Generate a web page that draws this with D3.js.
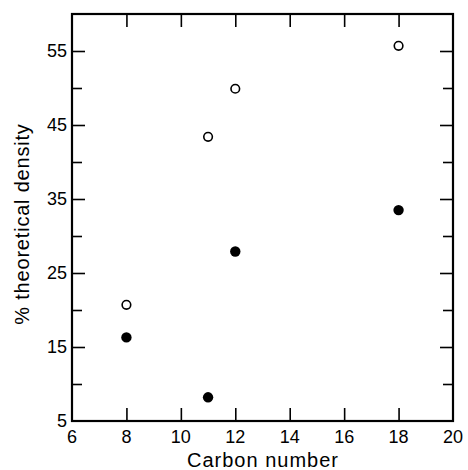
<!DOCTYPE html>
<html><head><meta charset="utf-8">
<script src="https://cdn.jsdelivr.net/npm/d3@7/dist/d3.min.js"></script>
<style>body{margin:0;background:#fff}svg{display:block}text{font-family:"Liberation Sans",Arial,sans-serif;fill:#000}</style>
</head><body>
<svg id="c" width="468" height="470"></svg>
<script>
const openX = [8, 11, 12, 18];
const openY = [20.7, 43.4, 49.9, 55.7];
const filledX = [8, 11, 12, 18];
const filledY = [16.3, 8.2, 27.9, 33.5];
const xTicks = [6, 8, 10, 12, 14, 16, 18, 20];
const yTicks = [5, 15, 25, 35, 45, 55];
const yMinor = [10, 20, 30, 40, 50];
const xLabel = "Carbon number";
const yLabel = "% theoretical density";

const svg = d3.select("#c");
const L = 72, R = 453, T = 14, B = 421;
const x = d3.scaleLinear().domain([6, 20]).range([L, R]);
const y = d3.scaleLinear().domain([5, 60]).range([B, T]);

// frame
svg.append("rect").attr("x", L).attr("y", T).attr("width", R - L).attr("height", B - T)
  .attr("fill", "none").attr("stroke", "#000").attr("stroke-width", 2.2);

const tickSize = 13, minorSize = 10;
const innerX = xTicks.filter(v => v > 6 && v < 20);
const gb = svg.append("g").attr("transform", `translate(0,${B})`)
  .call(d3.axisBottom(x).tickValues(innerX).tickSize(-tickSize).tickFormat(""));
const gt = svg.append("g").attr("transform", `translate(0,${T})`)
  .call(d3.axisTop(x).tickValues(innerX).tickSize(-tickSize).tickFormat(""));
const gl = svg.append("g").attr("transform", `translate(${L},0)`)
  .call(d3.axisLeft(y).tickValues(yTicks.filter(v => v > 5)).tickSize(-tickSize).tickFormat(""));
const glm = svg.append("g").attr("transform", `translate(${L},0)`)
  .call(d3.axisLeft(y).tickValues(yMinor).tickSize(-minorSize).tickFormat(""));
const gr = svg.append("g").attr("transform", `translate(${R},0)`)
  .call(d3.axisRight(y).tickValues(yTicks.filter(v => v > 5)).tickSize(-tickSize).tickFormat(""));
const grm = svg.append("g").attr("transform", `translate(${R},0)`)
  .call(d3.axisRight(y).tickValues(yMinor).tickSize(-minorSize).tickFormat(""));
[gb, gt, gl, glm, gr, grm].forEach(g => {
  g.select(".domain").remove();
  g.selectAll(".tick line").attr("stroke", "#000").attr("stroke-width", 1.6);
});

// tick labels
svg.append("g").selectAll("text").data(xTicks).join("text")
  .attr("x", d => x(d)).attr("y", 443).attr("text-anchor", "middle")
  .attr("font-size", 18).text(d => d);
svg.append("g").selectAll("text").data(yTicks).join("text")
  .attr("x", 67).attr("y", d => y(d) + 6).attr("text-anchor", "end")
  .attr("font-size", 18).text(d => d);

// axis labels
svg.append("text").attr("x", 263).attr("y", 467).attr("text-anchor", "middle")
  .attr("font-size", 20).attr("letter-spacing", 1).text(xLabel);
svg.append("text").attr("transform", `translate(29,224) rotate(-90)`)
  .attr("text-anchor", "middle").attr("font-size", 20).attr("letter-spacing", 0.8).text(yLabel);

// points
const openData = openX.map((v, i) => [v, openY[i]]);
const filledData = filledX.map((v, i) => [v, filledY[i]]);
svg.append("g").selectAll("circle").data(openData).join("circle")
  .attr("cx", d => x(d[0])).attr("cy", d => y(d[1])).attr("r", 4.3)
  .attr("fill", "#fff").attr("stroke", "#000").attr("stroke-width", 1.6);
svg.append("g").selectAll("circle").data(filledData).join("circle")
  .attr("cx", d => x(d[0])).attr("cy", d => y(d[1])).attr("r", 5.2)
  .attr("fill", "#000");
</script>
</body></html>
